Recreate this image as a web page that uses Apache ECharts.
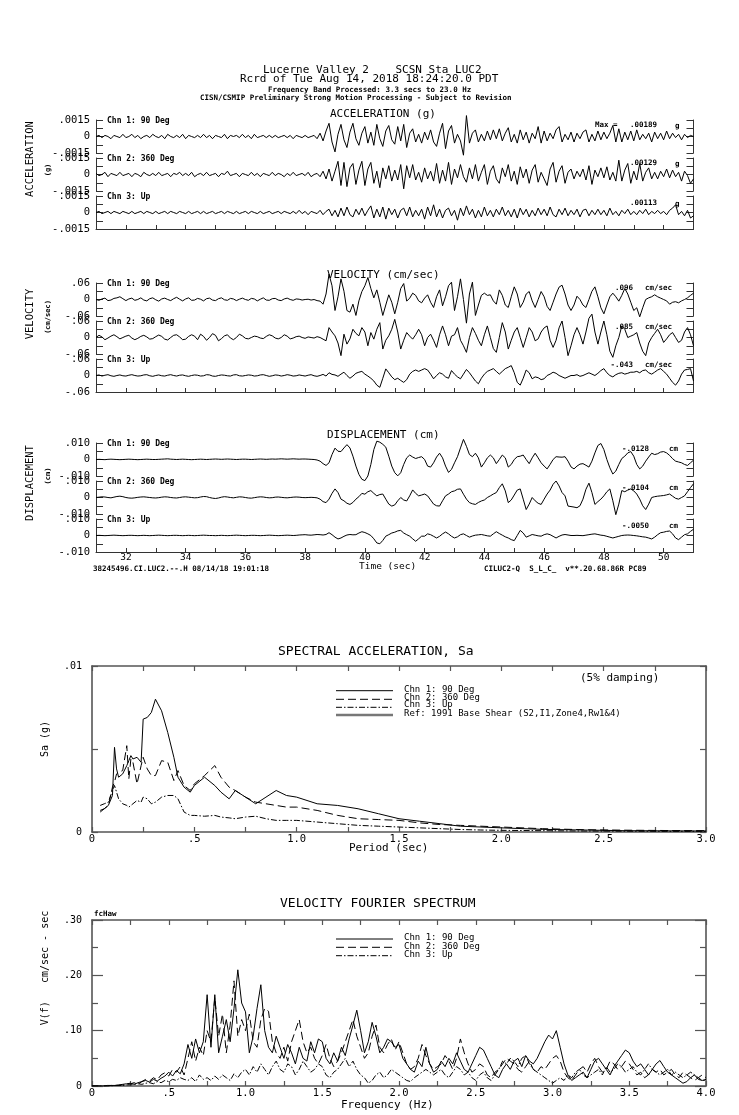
<!DOCTYPE html>
<html><head><meta charset="utf-8">
<script src="https://cdn.jsdelivr.net/npm/echarts@6/dist/echarts.min.js"></script>
<style>html,body{margin:0;padding:0;background:#fff}#c{width:739px;height:1115px}</style>
</head><body><div id="c"></div>
<script>
// ---------- time histories: samples every 0.1 s starting at 31.0 s ----------
const T0 = 31.0, DT = 0.1;
// acceleration, units of 0.0001 g
const ACC1 = [0,1,-1,1,0,-2,1,0,-1,2, -1,0,2,-1,1,-2,0,1,-1,2, 0,-1,1,-2,2,0,-1,1,-1,2, -2,1,0,-1,1,-1,2,-1,1,-2, 1,0,-1,2,-2,1,0,1,-1,2, -1,1,-2,2,-1,0,1,-1,1,-1, 1,-1,0,1,-1,1,-2,1,0,-1, 1,-1,0,1,-2,3,-4,5,12,-5, -14,2,11,-3,-10,4,12,-2,-8,3, 9,-6,4,-8,11,-2,-9,5,10,-3, -7,9,-4,11,-10,3,7,-5,2,-6, 4,-3,6,-5,-9,3,12,-11,5,10, -6,2,-4,-17,19,-6,3,6,-5,2, -4,5,-3,6,-2,7,-4,3,8,-5, 2,-6,6,-3,4,-6,3,-2,9,-6, 5,-4,3,-2,6,9,-5,2,-3,4, -5,3,-2,4,6,-5,2,-4,5,-3, 4,-2,3,10,-5,7,-5,4,-3,5, -4,6,-3,2,-2,3,-5,4,-2,3, -3,5,-2,3,-1,2,-3,2,-1,1, 0];
const ACC2 = [1,-1,0,2,-2,1,0,-1,2,-1, 0,1,-2,1,0,-2,2,0,-1,1, -1,2,-1,0,1,-2,1,0,2,-1, 1,-1,2,-2,0,1,-1,2,-1,0, 1,-2,1,0,3,-1,0,1,-2,1, 0,-1,2,-1,1,-2,1,0,-1,2, -1,1,0,-2,1,-1,2,-1,0,1, -1,2,-2,0,1,-2,3,-4,5,-6, 3,12,-10,11,-11,6,10,-9,4,12, -10,5,11,-8,3,-12,6,-4,8,-6, 4,-5,9,-13,8,-3,9,-5,2,-7, 6,-4,3,-6,10,-8,4,-6,11,-9, 5,-3,9,-2,-7,6,-4,9,-6,2, 9,-9,3,8,-4,-8,6,-2,9,-6, 3,-9,7,-3,5,-8,4,9,-7,2, -4,-10,5,11,-7,3,8,-8,2,5, -4,3,-2,5,-5,8,-9,4,-2,6, -3,7,-5,2,-6,13,-6,4,10,-8, 3,-5,10,-6,2,6,-4,2,-4,3, -2,5,-3,4,-2,2,-6,3,-1,-8, -4];
const ACC3 = [0,1,-1,0,1,-1,1,0,-1,1, 0,-1,1,-1,0,1,-1,1,0,-1, 1,-1,0,1,-1,1,0,-1,1,0, -1,1,-1,0,1,-1,1,-1,0,1, -1,0,1,-1,1,0,-1,1,-1,0, 1,-1,1,0,-1,1,-1,0,1,-1, 0,1,-1,1,0,-1,1,-1,2,-1, 1,-2,1,0,-1,2,-2,1,3,-3, 2,-4,4,-3,5,-2,-4,3,-2,4, -3,2,6,-5,3,-4,5,-6,4,-2, 3,-5,2,4,-3,5,-4,2,-3,3, -6,5,-3,7,-4,3,-5,2,4,-3, 2,-7,4,-3,6,-2,3,-5,2,-4, 5,-3,2,-4,3,-2,5,-3,2,-4, 3,-5,4,-2,3,-4,2,-3,4,-2, 3,-3,5,-2,-4,3,-2,4,-3,2, -2,3,-4,2,3,-3,2,-2,3,-2, 2,-3,4,-2,1,-3,2,-1,3,-2, 1,-2,2,-1,3,-2,1,-1,2,-1, 1,-2,2,4,7,-2,1,-3,2,-5, -3];
// velocity, units of 0.001 cm/sec
const VEL1 = [0,-3,2,5,-4,-2,4,6,10,3, -4,2,5,-3,0,6,-2,-5,3,6, -1,-6,2,5,0,-4,3,8,1,-5, 2,6,-3,-2,4,1,-5,3,5,-2, -4,3,6,-1,-3,4,2,-4,1,5, 0,-3,4,2,-5,1,6,-2,-3,3, 4,-2,-4,2,5,0,-3,2,1,-2, 0,1,-2,0,-4,-6,-17,20,92,50, -40,10,75,30,-40,-46,-17,-58,-5,29, 50,80,40,6,35,-10,-58,-20,17,-10, -52,-10,40,58,-6,5,23,15,-5,-12, 5,17,-10,-29,10,35,-23,10,50,63, -40,10,75,0,-86,20,63,-58,-20,15, 23,15,17,-5,-17,35,15,-20,-29,10, 46,20,-29,-10,20,29,-5,-29,0,29, 10,-25,-40,-10,20,45,52,20,-20,-40, -20,12,0,-20,-29,0,30,46,10,-30, -52,-20,10,23,10,-6,15,40,20,-10, -40,-30,-63,-30,0,6,10,17,10,5, 0,-5,-17,-10,-8,-12,-5,0,6,15, 23];
const VEL2 = [0,8,2,-8,-2,5,10,3,-5,0, 5,8,-2,-8,-3,4,8,2,-6,-4, 3,9,4,-6,-9,0,8,10,2,-8, -6,4,10,5,-8,12,4,-10,0,14, 8,-12,-4,6,10,-2,-8,0,12,6, -3,-5,0,5,3,-2,-4,4,10,6, -2,-5,0,10,5,-5,-2,3,5,0, -3,2,0,-2,3,0,-6,-12,36,20, 6,-20,-66,12,-24,-5,30,15,6,36, 20,-30,18,-6,30,54,-42,-10,6,30, 66,20,-42,-10,18,5,-6,10,30,10, -30,0,12,-10,-36,10,42,10,-30,5, 10,36,-10,-30,-54,0,36,15,-10,-30, 10,42,0,-40,-54,0,54,20,-42,-10, 20,36,0,-36,0,36,20,-12,-5,20, 35,42,-10,-36,-10,35,60,0,-66,-30, 10,36,10,-24,20,70,85,20,-24,20, 60,10,-50,-72,-30,0,42,30,0,5, 10,18,-20,-50,-66,-20,0,15,30,10, -18,-5,10,18,0,-18,-10,20,36,10, -30];
const VEL3 = [0,2,-2,1,3,-1,-3,0,2,-1, -2,1,3,0,-2,-1,2,3,-1,-3, 0,2,-1,-2,1,3,0,-2,1,2, -1,-3,0,2,1,-2,-1,3,2,-2, -3,0,2,1,-1,-2,2,3,-1,-2, 0,2,1,-2,-1,2,3,0,-3,-1, 2,1,-2,0,3,1,-2,-1,2,0, -2,1,3,-1,-3,0,4,-2,10,4, 2,-3,5,12,0,-10,-2,8,12,15, 5,-2,-10,-20,-35,-43,-10,24,10,-5, -15,-10,-18,-25,-15,5,15,20,15,20, 25,20,5,-12,0,10,5,-5,-10,18, 5,-5,-12,5,22,10,-5,-20,-30,-10, 5,15,20,25,15,5,15,25,30,36, 10,-25,-35,-10,20,10,-12,-5,-8,-15, -12,0,5,12,8,0,-5,-10,-5,0, 0,3,-3,0,5,10,5,0,8,18, 25,10,0,-5,3,8,10,5,8,12, 12,15,10,18,20,10,5,12,20,25, 15,5,-10,-25,-35,-20,5,20,22,25, -20];
// displacement, units of 0.0001 cm
const DIS1 = [0,1,0,-1,1,2,1,0,-1,0, 1,2,1,0,-1,0,1,2,1,0, 0,1,2,3,4,2,1,0,1,2, 1,0,-1,0,1,2,1,0,1,2, 3,2,1,2,3,2,1,0,1,2, 2,1,0,1,2,3,2,1,2,3, 2,3,4,3,2,3,4,3,2,3, 3,2,1,0,-3,-10,-25,-36,-20,30, 69,50,48,70,90,70,20,-40,-90,-120, -128,-100,-30,60,111,105,92,75,20,-40, -80,-99,-80,-30,10,27,15,6,12,17, 0,-40,-46,-20,15,38,10,-40,-78,-60, -20,17,70,122,80,30,17,38,10,-46, -20,10,27,10,-25,0,27,10,-46,-30, 0,17,20,27,0,-25,10,38,10,-20, -40,-57,-30,0,17,15,14,17,-10,-45, -57,-40,-28,-25,-35,-46,-10,40,85,97, 60,0,-50,-88,-70,-30,6,20,40,48, 20,-30,-57,-40,-10,15,38,30,35,45, 48,40,25,5,-10,-15,-20,-30,-36,-20, -4];
const DIS2 = [0,2,4,3,0,-2,2,6,8,5, 0,-3,-4,-2,1,3,4,2,0,-2, -3,-1,2,4,3,0,-2,-3,0,3, 4,2,0,-2,-1,3,6,5,0,-4, -6,-3,2,5,3,0,-2,1,4,3, 0,-3,-4,-1,2,4,3,0,-2,-1, 2,3,1,-1,-2,0,2,3,2,0, -1,0,1,0,-2,-10,-25,-31,-10,25, 52,30,-10,-20,-35,-42,-30,-10,5,25, 20,35,42,25,10,18,21,-10,-40,-52, -45,-20,0,-15,-21,10,46,25,10,15, 21,10,-15,-40,-50,-52,-20,10,21,35, 40,50,52,20,-10,-31,-38,-42,-30,-21, -15,0,10,21,30,60,83,40,-31,-15, 15,45,52,-10,-73,-40,0,-20,-35,-42, -10,21,45,80,100,70,30,10,-52,-55, -58,-62,-50,-10,50,87,30,-42,-25,-10, 10,35,52,-20,-104,-40,42,35,45,52, 40,21,-10,-50,-73,-40,0,5,8,10, 12,16,21,8,-5,-10,0,10,35,60, 83];
const DIS3 = [0,1,0,-1,0,1,2,1,0,-1, 0,1,1,0,-1,0,1,0,-1,0, 1,2,1,0,-1,0,1,1,0,-1, 0,1,0,-1,0,1,2,1,0,0, -1,0,1,0,-1,0,1,2,1,0, -1,0,1,1,0,-1,0,1,2,1, 0,-1,0,1,2,1,0,1,3,4, 5,3,2,4,6,5,3,6,17,5, -10,-21,-15,-5,3,6,4,5,15,23, 18,10,0,-20,-45,-50,-30,-4,5,15, 20,28,31,15,5,-4,-20,-35,-20,-4, -4,10,5,-5,-15,-5,10,21,10,-5, -15,-8,5,10,0,-10,-3,2,4,6, 2,-2,-4,10,23,12,2,-8,-15,-25, -31,0,31,15,-10,-2,6,2,-2,-4, 5,10,5,-5,-15,-5,3,6,3,0, 0,1,0,-1,2,5,8,10,6,2, 0,-5,-10,-15,-10,-5,0,2,3,2, 0,-2,-5,-8,-10,-15,-21,-10,5,17, 20,25,27,10,-15,-25,-10,5,10,25, 38];

const CHANNELS = ['Chn 1: 90 Deg', 'Chn 2: 360 Deg', 'Chn 3: Up'];
const ACC_PEAKS = ['.00189', '.00129', '.00113'];
const VEL_PEAKS = ['.096', '.085', '-.043'];
const DIS_PEAKS = ['-.0128', '-.0104', '-.0050'];

// ---------- spectral acceleration (5% damping), Sa in units of 0.0001 g ----------
const SA_PERIOD = [0.04,0.06,0.08,0.10,0.11,0.12,0.13,0.15,0.17,0.18,0.19,0.20,0.22,0.24,0.25,0.27,0.29,0.31,0.34,0.37,0.40,0.42,0.45,0.48,0.50,0.55,0.60,0.63,0.67,0.70,0.75,0.80,0.85,0.90,0.95,1.00,1.10,1.20,1.30,1.40,1.50,1.60,1.70,1.80,1.90,2.00,2.20,2.40,2.60,2.80,3.00];
const SA1 = [12,14,16,22,51,38,33,35,40,43,46,44,45,42,68,69,72,80,73,60,45,33,27,24,28,33,28,24,20,25,21,17,21,25,22,21,17,16,14,11,8,6.5,5,3.5,3,2.5,1.6,1.2,0.8,0.7,0.6];
const SA2 = [13,14,16,27,30,35,36,37,52,32,44,42,29,40,45,38,34,34,43,42,31,37,28,25,29,34,40,33,27,25,21,18,17,16,15,15,13,10,8,7.5,7,5.5,4.5,4,3.5,3,2,1.4,1.1,0.9,0.8];
const SA3 = [16,17,18,25,28,24,20,17,16,15,16,17,19,18,21,20,17,18,21,22,22,20,12,10,10,9.5,10,9,8.5,8,9,9.5,8,7,7,7,6,5,4,3.5,3,2.5,2,1.5,1.2,1,0.8,0.6,0.5,0.4,0.4];

// ---------- velocity Fourier spectrum, every 0.025 Hz from 0, units of 0.001 cm/sec-sec ----------
const DF = 0.025;
const FS1 = [0,0,0,0,1,1,1,2,3,4, 5,3,6,8,10,7,12,9,14,18, 25,18,28,22,40,75,50,85,60,80, 165,70,165,60,90,120,80,140,210,150, 134,60,90,140,183,100,70,60,90,70, 50,75,60,40,70,50,45,80,60,85, 80,50,40,60,45,70,55,85,110,137, 100,60,80,115,90,60,70,85,80,70, 75,50,40,30,25,45,35,70,40,25, 30,45,35,50,40,60,45,30,25,40, 55,70,65,50,35,20,15,30,40,30, 45,50,35,55,45,40,50,65,80,92, 85,100,70,40,20,10,15,20,25,15, 30,45,50,40,30,20,35,45,55,65, 60,45,35,40,30,20,30,40,46,35, 25,20,15,10,5,8,15,20,12,10, 12];
const FS2 = [0,0,0,0,0,1,1,1,2,3, 4,6,3,8,12,9,15,11,20,24, 18,30,25,35,20,50,80,45,70,55, 100,80,160,90,130,60,110,190,90,120, 100,130,80,70,120,140,135,80,60,50, 70,45,80,100,120,80,60,70,50,40, 55,75,50,35,45,60,80,100,120,90, 70,50,60,90,110,70,60,75,85,65, 80,60,40,30,35,50,75,55,40,30, 35,40,55,45,30,50,85,60,40,25, 30,40,35,20,15,25,30,40,50,45, 40,30,25,35,45,30,25,35,30,40, 50,55,45,25,15,10,20,30,35,25, 40,50,35,25,30,45,40,30,35,45, 40,30,20,25,15,20,30,25,30,20, 25,30,20,15,25,20,15,10,15,20, 15];
const FS3 = [0,0,0,0,0,0,1,1,1,2, 2,3,4,3,5,6,4,8,6,10, 8,12,10,15,12,10,15,8,20,12, 15,10,18,12,20,15,10,22,15,25, 30,20,35,25,40,30,20,35,45,30, 25,40,35,20,30,45,35,25,30,40, 35,20,15,25,30,40,50,35,45,30, 20,15,5,10,20,25,15,20,30,25, 20,15,10,8,15,20,25,30,25,20, 25,30,20,15,25,35,30,20,25,15, 10,20,25,15,10,20,30,45,40,50, 45,35,50,55,40,30,25,20,15,10, 5,10,15,10,20,15,25,30,20,15, 20,25,30,20,35,25,30,40,35,25, 30,35,25,20,30,40,30,25,20,25, 30,20,25,20,15,20,25,20,15,10, 10];

const LEGEND_SA = ['Chn 1: 90 Deg', 'Chn 2: 360 Deg', 'Chn 3: Up', 'Ref: 1991 Base Shear (S2,I1,Zone4,Rw1&4)'];

// ---------- build ----------
const MONO = '"DejaVu Sans Mono","Liberation Mono",monospace';
const FRAME = '#333';
const DASH = [8, 4];
const DASHDOT = [6, 2, 1.5, 2];
const grids = [], xAxes = [], yAxes = [], series = [], graphics = [];
const strip = s => s.replace(/^(-?)0\./, '$1.');

function txt(x, y, text, size, o) {
  o = o || {};
  graphics.push({type: 'text', x: x, y: y, rotation: o.rot || 0, silent: true, z: 10,
    style: {text: text, fill: '#000', fontSize: size, fontFamily: MONO, fontWeight: o.bold ? 'bold' : 'normal',
      textAlign: o.align || 'left', textVerticalAlign: 'middle', align: o.align || 'left', verticalAlign: 'middle'}});
}
function seg(x1, y1, x2, y2, dash, color, w) {
  graphics.push({type: 'line', silent: true, shape: {x1: x1, y1: y1, x2: x2, y2: y2},
    style: {stroke: color || '#000', lineWidth: w || 1, lineDash: dash || null}});
}

function addPanel(top, values, unit, range, digits, isBottom, showTime) {
  const gi = grids.length;
  grids.push({left: 96, top: top, width: 597.5, height: 33, containLabel: false, outerBoundsMode: 'none'});
  xAxes.push({gridIndex: gi, type: 'value', min: 31, max: 51, interval: 1,
    axisLine: {show: isBottom, onZero: false, lineStyle: {color: FRAME, width: 1}},
    axisTick: {show: isBottom, inside: true, length: 4, lineStyle: {color: FRAME}},
    axisLabel: {show: showTime, margin: 1, fontFamily: MONO, fontSize: 9.5, color: '#000',
      formatter: v => { const r = Math.round(v); return (Math.abs(v - r) < 1e-6 && r % 2 === 0 && r >= 32 && r <= 50) ? String(r) : ''; }},
    splitLine: {show: false}});
  const yi = yAxes.length;
  const base = {gridIndex: gi, type: 'value', min: -range, max: range, interval: range / 2,
    splitLine: {show: false},
    axisLine: {show: true, onZero: false, lineStyle: {color: FRAME, width: 1}},
    axisTick: {show: true, inside: true, length: 7, lineStyle: {color: FRAME}}};
  yAxes.push(Object.assign({}, base, {position: 'left', axisLabel: {show: true, margin: 6, fontFamily: MONO, fontSize: 10.5, color: '#000',
    formatter: v => Math.abs(v) < 1e-9 ? '0' : (Math.abs(Math.abs(v) - range) < 1e-6 ? strip((v * unit).toFixed(digits)) : '')}}));
  yAxes.push(Object.assign({}, base, {position: 'right', axisLabel: {show: false}}));
  series.push({type: 'line', xAxisIndex: gi, yAxisIndex: yi, data: values.map((v, i) => [T0 + i * DT, v]),
    symbol: 'none', showSymbol: false, clip: false, silent: true, lineStyle: {color: '#000', width: 1}});
}

const groups = [
  {tops: [120, 158, 196], data: [ACC1, ACC2, ACC3], unit: 1e-4, range: 15, digits: 4, time: false},
  {tops: [283, 321, 359], data: [VEL1, VEL2, VEL3], unit: 1e-3, range: 60, digits: 2, time: false},
  {tops: [443, 481, 519], data: [DIS1, DIS2, DIS3], unit: 1e-4, range: 100, digits: 3, time: true}
];
groups.forEach(g => {
  g.tops.forEach((t, k) => {
    addPanel(t, g.data[k], g.unit, g.range, g.digits, k === 2, g.time && k === 2);
    txt(107, t + 0.5, CHANNELS[k], 8, {bold: true});
  });
});

// peak value notes
txt(595, 125.5, 'Max =', 7.5, {bold: true});
[125.5, 163.5, 203.3].forEach((y, k) => { txt(630, y, ACC_PEAKS[k], 7.5, {bold: true}); txt(675, y + 0.5, 'g', 7.5, {bold: true}); });
[288.3, 326.7, 365].forEach((y, k) => { txt(633, y, VEL_PEAKS[k], 7.5, {bold: true, align: 'right'}); txt(645, y, 'cm/sec', 7.5, {bold: true}); });
[449, 487.7, 525.7].forEach((y, k) => { txt(622, y, DIS_PEAKS[k], 7.5, {bold: true}); txt(669, y, 'cm', 7.5, {bold: true}); });

// header and group titles
txt(263, 70, 'Lucerne Valley 2    SCSN Sta LUC2', 11);
txt(240, 79.5, 'Rcrd of Tue Aug 14, 2018 18:24:20.0 PDT', 11);
txt(268, 90, 'Frequency Band Processed: 3.3 secs to 23.0 Hz', 7.5, {bold: true});
txt(200, 98.5, 'CISN/CSMIP Preliminary Strong Motion Processing - Subject to Revision', 7.5, {bold: true});
txt(330, 114, 'ACCELERATION (g)', 11);
txt(327, 275, 'VELOCITY (cm/sec)', 11);
txt(327, 435, 'DISPLACEMENT (cm)', 11);
const UP = Math.PI / 2;
txt(30, 159, 'ACCELERATION', 10.5, {rot: UP, align: 'center'});
txt(48, 170, '(g)', 7, {rot: UP, align: 'center', bold: true});
txt(30, 314, 'VELOCITY', 10.5, {rot: UP, align: 'center'});
txt(48, 317, '(cm/sec)', 7, {rot: UP, align: 'center', bold: true});
txt(30, 483, 'DISPLACEMENT', 10.5, {rot: UP, align: 'center'});
txt(48, 476, '(cm)', 7, {rot: UP, align: 'center', bold: true});
txt(93, 569, '38245496.CI.LUC2.--.H 08/14/18 19:01:18', 7.5, {bold: true});
txt(359, 567, 'Time (sec)', 9.5);
txt(484, 569, 'CILUC2-Q  S_L_C_  v**.20.68.86R PC89', 7.5, {bold: true});

// ---------- boxed spectrum charts ----------
const BOX = '#555';
function fmtDec(v, step, lab, dig) {
  const r = Math.round(v / step);
  if (r % lab) return '';
  if (r === 0) return '0';
  return strip((v).toFixed(dig));
}
function addBox(top, xmax, xStep, xLabEvery, ymax, yStep, yLabEvery, yDig, yMinor) {
  const gi = grids.length;
  grids.push({left: 92, top: top, width: 614, height: 166, containLabel: false, outerBoundsMode: 'none'});
  const xb = {gridIndex: gi, type: 'value', min: 0, max: xmax, interval: xStep, splitLine: {show: false},
    axisLine: {show: true, onZero: false, lineStyle: {color: BOX, width: 1.6}},
    axisTick: {show: true, inside: true, length: 5, lineStyle: {color: BOX, width: 1.2}}};
  const xi = xAxes.length;
  xAxes.push(Object.assign({}, xb, {position: 'bottom', axisLabel: {show: true, margin: 2, fontFamily: MONO, fontSize: 10.5, color: '#000',
    formatter: v => fmtDec(v, xStep, xLabEvery, 1)}}));
  xAxes.push(Object.assign({}, xb, {position: 'top', axisLabel: {show: false}}));
  const yb = {gridIndex: gi, type: 'value', min: 0, max: ymax, interval: yStep, splitLine: {show: false}, minorSplitLine: {show: false},
    axisLine: {show: true, onZero: false, lineStyle: {color: BOX, width: 1.6}},
    axisTick: {show: true, inside: true, length: yMinor ? 11 : 6, lineStyle: {color: BOX, width: 1.2}},
    minorTick: {show: !!yMinor, splitNumber: 2, length: 6, lineStyle: {color: BOX, width: 1.2}}};
  const yi = yAxes.length;
  yAxes.push(Object.assign({}, yb, {position: 'left', axisLabel: {show: true, margin: 10, fontFamily: MONO, fontSize: 10, color: '#000',
    formatter: v => fmtDec(v, yStep, yLabEvery, yDig)}}));
  yAxes.push(Object.assign({}, yb, {position: 'right', axisLabel: {show: false}}));
  return {xi: xi, yi: yi};
}
function addCurve(ax, data, type) {
  series.push({type: 'line', xAxisIndex: ax.xi, yAxisIndex: ax.yi, data: data, symbol: 'none', showSymbol: false,
    silent: true, lineStyle: {color: '#000', width: 1, type: type}});
}

// Spectral acceleration
const axSA = addBox(666, 3, 0.25, 2, 0.01, 0.005, 2, 2, false);
addCurve(axSA, SA_PERIOD.map((p, i) => [p, SA1[i] * 1e-4]), 'solid');
addCurve(axSA, SA_PERIOD.map((p, i) => [p, SA2[i] * 1e-4]), DASH);
addCurve(axSA, SA_PERIOD.map((p, i) => [p, SA3[i] * 1e-4]), DASHDOT);
txt(278, 651.7, 'SPECTRAL ACCELERATION, Sa', 13);
txt(580, 678.3, '(5% damping)', 11);
const saLegY = [690.7, 699.3, 707.3, 715];
const saTxtY = [689.3, 697.7, 705, 714];
seg(336, saLegY[0], 393, saLegY[0], null);
seg(336, saLegY[1], 393, saLegY[1], DASH);
seg(336, saLegY[2], 393, saLegY[2], DASHDOT);
seg(336, saLegY[3], 393, saLegY[3], null, '#777', 2.5);
LEGEND_SA.forEach((s, k) => txt(404, saTxtY[k], s, 9));
txt(45, 739, 'Sa (g)', 10, {rot: UP, align: 'center'});
txt(349, 848.3, 'Period (sec)', 11);

// Velocity Fourier spectrum
const axFS = addBox(920, 4, 0.25, 2, 0.3, 0.1, 1, 2, true);
addCurve(axFS, FS1.map((v, i) => [i * DF, v / 1000]), 'solid');
addCurve(axFS, FS2.map((v, i) => [i * DF, v / 1000]), DASH);
addCurve(axFS, FS3.map((v, i) => [i * DF, v / 1000]), DASHDOT);
txt(280, 903.3, 'VELOCITY FOURIER SPECTRUM', 13);
txt(94, 914, 'fcHaw', 7.5, {bold: true});
const fsLegY = [939, 947.3, 955.7];
seg(336, fsLegY[0], 393, fsLegY[0], null);
seg(336, fsLegY[1], 393, fsLegY[1], DASH);
seg(336, fsLegY[2], 393, fsLegY[2], DASHDOT);
CHANNELS.forEach((s, k) => txt(404, fsLegY[k] - 1, s, 9));
txt(45, 968, 'V(f)   cm/sec - sec', 10, {rot: UP, align: 'center'});
txt(341, 1105, 'Frequency (Hz)', 11);

const chart = echarts.init(document.getElementById('c'), null, {renderer: 'canvas', width: 739, height: 1115});
chart.setOption({
  backgroundColor: '#fff',
  animation: false,
  grid: grids, xAxis: xAxes, yAxis: yAxes, series: series, graphic: graphics
});
</script></body></html>
